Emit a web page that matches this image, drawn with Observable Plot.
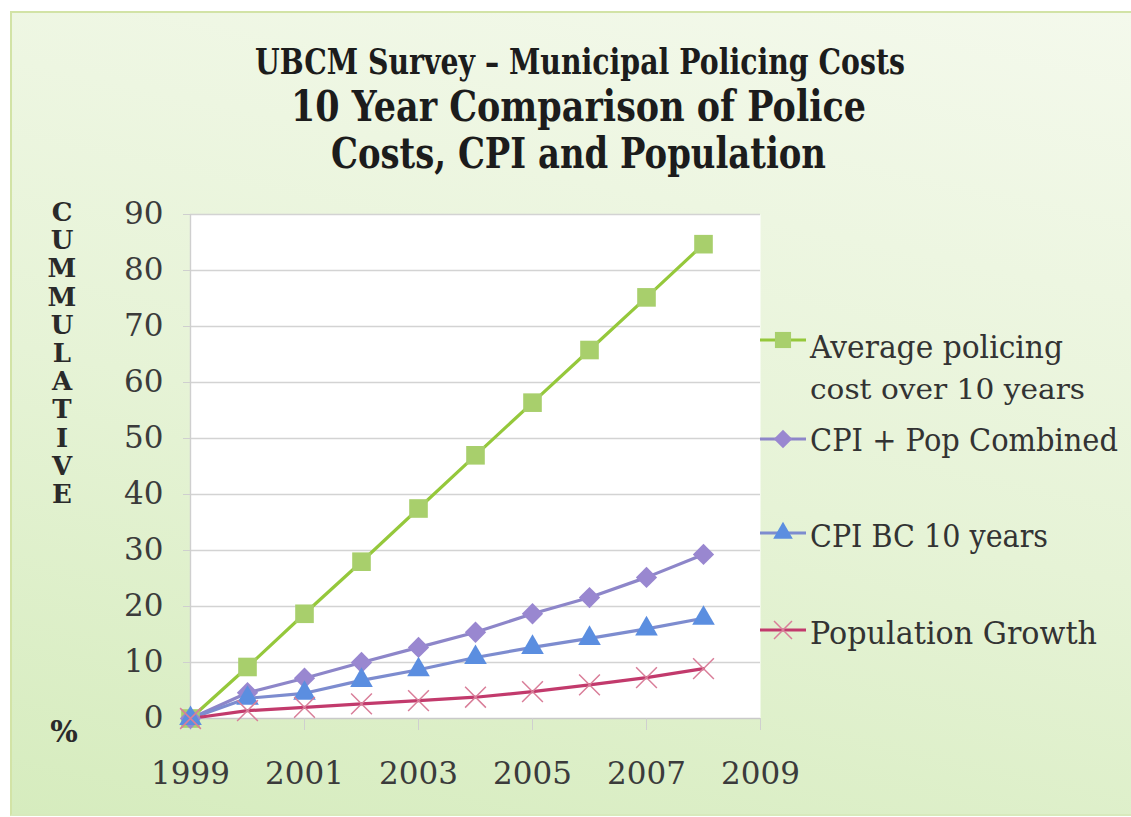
<!DOCTYPE html>
<html>
<head>
<meta charset="utf-8">
<script src="https://cdn.jsdelivr.net/npm/d3@7"></script>
<script src="https://cdn.jsdelivr.net/npm/@observablehq/plot@0.6"></script>
<style>
  html, body { margin: 0; padding: 0; background: #ffffff; }
  body { width: 1131px; height: 817px; position: relative; overflow: hidden; font-family: "DejaVu Serif", serif; }
  #frame { position: absolute; left: 10px; top: 11px; width: 1130px; height: 801px;
    border-top: 2px solid #d2e3a6; border-left: 2px solid #d2e3a6; border-bottom: 2px solid #d8e9bc;
    background: linear-gradient(12deg, #d6ecbe 0%, #e6f3d6 45%, #f4f9ec 100%); }
  .tl { position: absolute; white-space: nowrap; color: #1c1c1c; font-weight: bold; line-height: 1; transform-origin: 0 50%; }
  .yl { position: absolute; width: 34px; text-align: center; font-weight: bold; font-size: 26px; line-height: 1; color: #2a2a2a; }
  .lg { position: absolute; white-space: nowrap; color: #333; line-height: 1; transform-origin: 0 50%; }
  #chart { position: absolute; left: 0; top: 190px; }
  .sw { position: absolute; }
</style>
</head>
<body>
<div id="frame"></div>
<div id="chart"></div>
<script>
// ---------- data ----------
const years = [1999, 2000, 2001, 2002, 2003, 2004, 2005, 2006, 2007, 2008];
const policing  = [0, 9.2, 18.7, 28.0, 37.5, 47.0, 56.4, 65.8, 75.2, 84.7];
const cpiPop    = [0, 4.6, 7.2, 10.0, 12.7, 15.4, 18.7, 21.6, 25.2, 29.3];
const cpiBC     = [0, 3.6, 4.5, 6.8, 8.7, 10.9, 12.7, 14.3, 16.0, 17.9];
const popGrowth = [0, 1.4, 2.0, 2.6, 3.2, 3.8, 4.8, 6.0, 7.3, 8.9];
const seriesNames = ["Average policing cost over 10 years", "CPI + Pop Combined", "CPI BC 10 years", "Population Growth"];
const xTicks = [1999, 2001, 2003, 2005, 2007, 2009];
const yTicks = [0, 10, 20, 30, 40, 50, 60, 70, 80, 90];
const gridTicks = [10, 20, 30, 40, 50, 60, 70, 80, 90];
const titleLines = ["UBCM Survey – Municipal Policing Costs", "10 Year Comparison of Police", "Costs, CPI and Population"];
const yTitleLetters = ["C", "U", "M", "M", "U", "L", "A", "T", "I", "V", "E"];
const yTitleUnit = "%";
const legendLines = [["Average policing", "cost over 10 years"], ["CPI + Pop Combined"], ["CPI BC 10 years"], ["Population Growth"]];

// ---------- styles ----------
const seriesValues = [policing, cpiPop, cpiBC, popGrowth];
const styles = [
  {line: "#95c83b", fill: "#a8cf6c", stroke: "none", symbol: "square", r: 10.5, sw: 0},
  {line: "#8d86c9", fill: "#9987d0", stroke: "none", symbol: "diamond2", r: 9.6, sw: 0},
  {line: "#7d8ccf", fill: "#5b8ee0", stroke: "none", symbol: "triangle", r: 8.4, sw: 0},
  {line: "#c23a6c", fill: "none", stroke: "#d97e99", symbol: "times", r: 9.5, sw: 1.5}
];

const rows = seriesValues.map((vals, s) => years.map((yr, i) => ({year: yr, value: vals[i], series: seriesNames[s]})));

// ---------- title ----------
const fitText = (el, left, target) => {
  const w = el.getBoundingClientRect().width;
  el.style.left = left + "px";
  el.style.transform = `scaleX(${target / w})`;
};
const titleSpec = [
  {size: 35, top: 44, center: 580, width: 650},
  {size: 42, top: 86, center: 578, width: 575},
  {size: 42, top: 133, center: 578, width: 495}
];
titleLines.forEach((t, i) => {
  const el = document.createElement("div");
  el.className = "tl";
  el.textContent = t;
  el.style.fontSize = titleSpec[i].size + "px";
  el.style.top = titleSpec[i].top + "px";
  document.body.appendChild(el);
  fitText(el, titleSpec[i].center - titleSpec[i].width / 2, titleSpec[i].width);
});

// ---------- vertical y title ----------
yTitleLetters.forEach((ch, i) => {
  const el = document.createElement("div");
  el.className = "yl";
  el.textContent = ch;
  el.style.left = "45px";
  el.style.top = (199 + i * 28.2) + "px";
  document.body.appendChild(el);
});
{
  const el = document.createElement("div");
  el.className = "yl";
  el.textContent = yTitleUnit;
  el.style.left = "47px";
  el.style.fontSize = "29px";
  el.style.top = "718px";
  document.body.appendChild(el);
}

// ---------- chart ----------
const marks = [
  Plot.frame({fill: "white", stroke: "none"}),
  Plot.gridY(gridTicks, {stroke: "#d3d3d3", strokeOpacity: 1, strokeWidth: 1.4}),
  Plot.ruleX([1999], {stroke: "#cfcfcf", strokeWidth: 1.4}),
  Plot.ruleY([0], {stroke: "#c9c9c9", strokeWidth: 1.4}),
  Plot.axisY({ticks: yTicks, label: null, tickSize: 7, tickPadding: 20, stroke: "#cfcfcf", fill: "#3b3b3b", fontSize: 31, tickFormat: d => String(d)}),
  Plot.axisX({ticks: xTicks, label: null, tickSize: 12, tickPadding: 31, stroke: "#cfcfcf", fill: "#3b3b3b", fontSize: 31, tickFormat: d => String(d)})
];
rows.forEach((r, s) => {
  marks.push(Plot.line(r, {x: "year", y: "value", stroke: styles[s].line, strokeWidth: 3.2}));
});
rows.forEach((r, s) => {
  const st = styles[s];
  marks.push(Plot.dot(r, {x: "year", y: "value", symbol: st.symbol, r: st.r, fill: st.fill, stroke: st.stroke, strokeWidth: st.sw}));
});

const chart = Plot.plot({
  width: 1131,
  height: 627,
  marginTop: 24,
  marginBottom: 99,
  marginLeft: 190,
  marginRight: 371,
  x: {domain: [1999, 2009], axis: null},
  y: {domain: [0, 90], axis: null},
  style: {background: "transparent", fontFamily: "DejaVu Serif, serif", color: "#3b3b3b"},
  marks
});
document.getElementById("chart").appendChild(chart);

// ---------- legend ----------
const legendSpec = [
  {marker: 340, lines: [{y: 347, size: 31, width: 253}, {y: 389, size: 27, width: 275}]},
  {marker: 439, lines: [{y: 440, size: 31, width: 308}]},
  {marker: 533, lines: [{y: 536, size: 31, width: 238}]},
  {marker: 630, lines: [{y: 633, size: 31, width: 287}]}
];
legendLines.forEach((lines, s) => {
  const spec = legendSpec[s];
  const st = styles[s];
  const sw = d3.create("svg").attr("class", "sw").attr("width", 50).attr("height", 30)
    .style("left", "758px").style("top", (spec.marker - 15) + "px");
  sw.append("line").attr("x1", 2).attr("x2", 48).attr("y1", 15).attr("y2", 15)
    .attr("stroke", st.line).attr("stroke-width", 3.2);
  const symMap = {square: d3.symbolSquare, diamond2: d3.symbolDiamond2, triangle: d3.symbolTriangle, times: d3.symbolTimes};
  sw.append("path").attr("transform", "translate(25,15)")
    .attr("d", d3.symbol(symMap[st.symbol], Math.PI * st.r * st.r * 0.75)())
    .attr("fill", st.fill).attr("stroke", st.stroke).attr("stroke-width", st.sw);
  document.body.appendChild(sw.node());
  lines.forEach((txt, j) => {
    const l = spec.lines[j];
    const el = document.createElement("div");
    el.className = "lg";
    el.textContent = txt;
    el.style.fontSize = l.size + "px";
    el.style.top = (l.y - l.size / 2) + "px";
    document.body.appendChild(el);
    fitText(el, 810, l.width);
  });
});
</script>
</body>
</html>
